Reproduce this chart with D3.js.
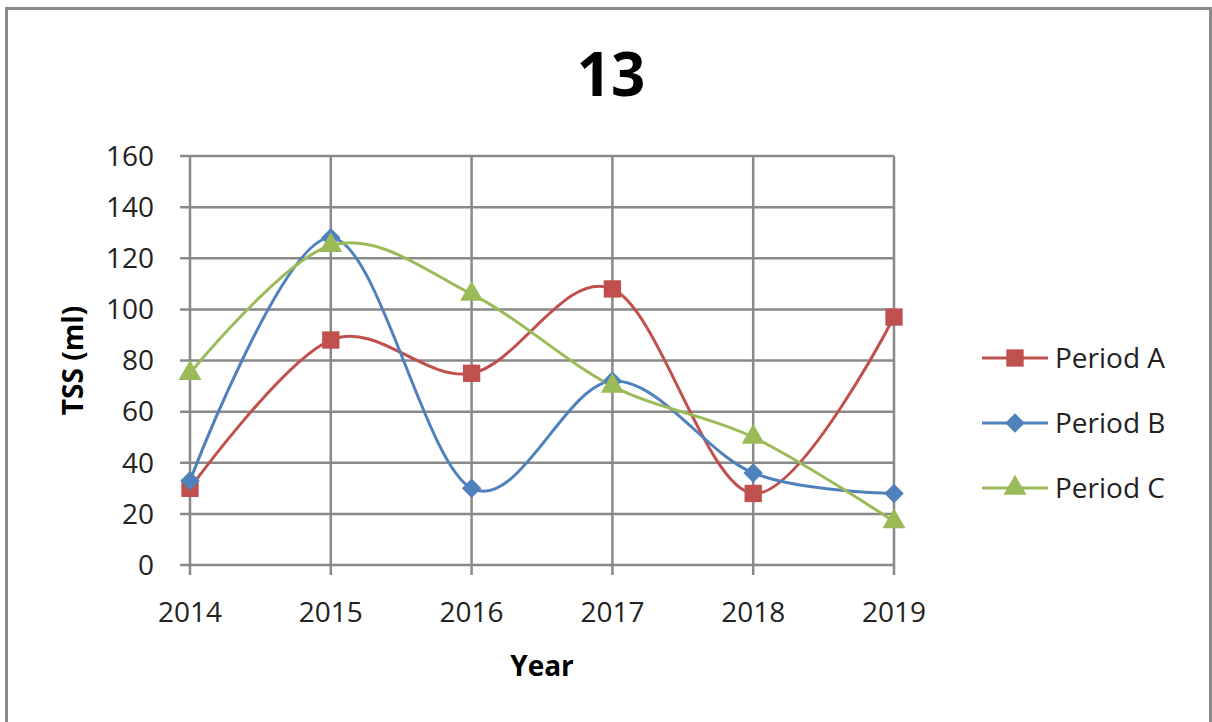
<!DOCTYPE html>
<html>
<head>
<meta charset="utf-8">
<script src="https://cdn.jsdelivr.net/npm/d3@7"></script>
<style>
  body { margin: 0; background: #fff; }
  svg { display: block; font-family: "Open Sans", "Noto Sans", sans-serif; }
</style>
</head>
<body>
<svg id="chart" width="1212" height="722"></svg>
<script>
// chart data
var years = [2014, 2015, 2016, 2017, 2018, 2019];
var periodA = [30, 88, 75, 108, 28, 97];
var periodB = [33, 128, 30, 72, 36, 28];
var periodC = [75, 125, 106, 70, 50, 17];
var seriesNames = ["Period A", "Period B", "Period C"];
var yTicks = [0, 20, 40, 60, 80, 100, 120, 140, 160];

var colors = ["#C0504D", "#4F81BD", "#9BBB59"];
// excel-ish markers: square, diamond (square turned 45deg), triangle
var markers = [d3.symbolSquare, d3.symbolSquare, d3.symbolTriangle];
var markerSize = [300, 190, 230];
var markerRot = [0, 45, 0];

var svg = d3.select("#chart");

// outer frame
svg.append("rect")
    .attr("x", 6.5).attr("y", 8.5)
    .attr("width", 1204).attr("height", 740)
    .attr("fill", "none")
    .attr("stroke", "#8a8a8a")
    .attr("stroke-width", 3);

// plot box (don't name these top/left -> window.top clash)
var plotL = 190, plotR = 894, plotT = 156, plotB = 565;

var x = d3.scalePoint()
    .domain(years)
    .range([plotL, plotR]);

var y = d3.scaleLinear()
    .domain([0, 160])
    .range([plotB, plotT]);

var grid = "#898989";

// horizontal gridlines
svg.append("g")
    .selectAll("line")
    .data(yTicks)
    .enter().append("line")
    .attr("x1", plotL - 10).attr("x2", plotR)
    .attr("y1", function (d) { return y(d); })
    .attr("y2", function (d) { return y(d); })
    .attr("stroke", grid).attr("stroke-width", 2.5);

// vertical gridlines
svg.append("g")
    .selectAll("line")
    .data(years)
    .enter().append("line")
    .attr("x1", function (d) { return x(d); })
    .attr("x2", function (d) { return x(d); })
    .attr("y1", plotT).attr("y2", plotB + 10)
    .attr("stroke", grid).attr("stroke-width", 2.5);

// y axis labels
svg.append("g")
    .selectAll("text")
    .data(yTicks)
    .enter().append("text")
    .attr("x", 154)
    .attr("y", function (d) { return y(d); })
    .attr("dy", "0.35em")
    .attr("text-anchor", "end")
    .attr("font-size", 28)
    .attr("fill", "#222")
    .text(function (d) { return d; });

// x axis labels
svg.append("g")
    .selectAll("text")
    .data(years)
    .enter().append("text")
    .attr("x", function (d) { return x(d); })
    .attr("y", 612)
    .attr("dy", "0.35em")
    .attr("text-anchor", "middle")
    .attr("font-size", 28)
    .attr("fill", "#222")
    .text(function (d) { return d; });

// titles
svg.append("text")
    .attr("x", 611).attr("y", 75)
    .attr("dy", "0.35em")
    .attr("text-anchor", "middle")
    .attr("font-size", 60)
    .attr("font-weight", "bold")
    .text("13");

svg.append("text")
    .attr("x", 542).attr("y", 666)
    .attr("dy", "0.35em")
    .attr("text-anchor", "middle")
    .attr("font-size", 28)
    .attr("font-weight", "bold")
    .text("Year");

svg.append("text")
    .attr("transform", "translate(73," + ((plotT + plotB) / 2) + ") rotate(-90)")
    .attr("dy", "0.35em")
    .attr("text-anchor", "middle")
    .attr("font-size", 28)
    .attr("font-weight", "bold")
    .text("TSS (ml)");

// lines
var series = [periodA, periodB, periodC];

var line = d3.line()
    .x(function (d, i) { return x(years[i]); })
    .y(function (d) { return y(d); })
    .curve(d3.curveCatmullRom.alpha(0));

series.forEach(function (vals, s) {
    svg.append("path")
        .datum(vals)
        .attr("d", line)
        .attr("fill", "none")
        .attr("stroke", colors[s])
        .attr("stroke-width", 3);
});

series.forEach(function (vals, s) {
    svg.append("g")
        .selectAll("path")
        .data(vals)
        .enter().append("path")
        .attr("transform", function (d, i) {
            return "translate(" + x(years[i]) + "," + y(d) + ") rotate(" + markerRot[s] + ")";
        })
        .attr("d", d3.symbol().type(markers[s]).size(markerSize[s]))
        .attr("fill", colors[s]);
});

// legend
var legendY = [358, 423, 488];
var legend = svg.append("g");
seriesNames.forEach(function (name, s) {
    var g = legend.append("g").attr("transform", "translate(0," + legendY[s] + ")");
    g.append("line")
        .attr("x1", 982).attr("x2", 1048)
        .attr("stroke", colors[s]).attr("stroke-width", 3);
    g.append("path")
        .attr("transform", "translate(1015,0) rotate(" + markerRot[s] + ")")
        .attr("d", d3.symbol().type(markers[s]).size(markerSize[s]))
        .attr("fill", colors[s]);
    g.append("text")
        .attr("x", 1055)
        .attr("dy", "0.35em")
        .attr("font-size", 28)
        .attr("fill", "#222")
        .text(name);
});
</script>
</body>
</html>
